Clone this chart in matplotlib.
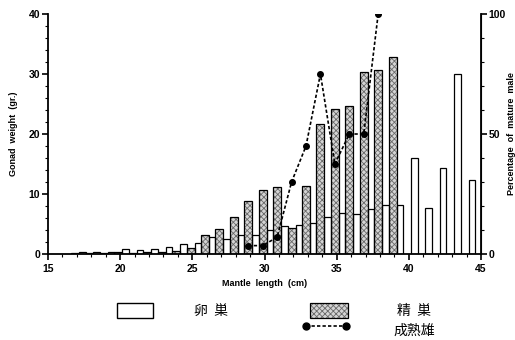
import numpy as np
import matplotlib
matplotlib.use("Agg")
import matplotlib.pyplot as plt
from matplotlib.patches import Rectangle
from matplotlib.lines import Line2D

plt.rcParams['font.family'] = ['Liberation Sans', 'DejaVu Sans']
plt.rcParams['hatch.linewidth'] = 0.6

# gonad weight (g) by mantle length class (cm)
ovary_len = np.arange(17, 45)
ovary_wt = [0.3, 0.3, 0.4, 0.8, 0.65, 0.85, 1.2, 1.7, 1.8, 2.8, 2.5, 3.1,
            3.1, 4.0, 4.6, 4.8, 5.1, 6.1, 6.9, 6.6, 7.5, 8.2, 8.2, 16.0,
            7.6, 14.4, 30.0, 12.4]

testis_len = np.arange(17, 40)
testis_wt = [0.15, 0.2, 0.2, 0.3, 0.2, 0.3, 0.3, 0.45, 1.0, 3.1, 4.1, 6.1,
             8.9, 10.6, 11.2, 4.3, 11.3, 21.6, 24.2, 24.7, 30.4, 30.6, 32.9]

# percentage of mature males
mature_len = np.arange(29, 39)
mature_pct = [3.5, 3.5, 7, 30, 45, 75, 37.5, 50, 50, 100]

STIPPLE_FACE = '#d4d4d4'
STIPPLE_EDGE = '#6a6a6a'

fig = plt.figure(figsize=(5.15, 3.4), dpi=100)
ax = fig.add_axes([0.0932, 0.2529, 0.8408, 0.7059])
ax2 = ax.twinx()

# testis bars sit just left of the class mark, ovary bars just right
ax.bar(testis_len - 0.125, testis_wt, width=0.55, facecolor=STIPPLE_FACE,
       edgecolor=STIPPLE_EDGE, hatch='xxxxxx', linewidth=0, zorder=2)
ax.bar(testis_len - 0.125, testis_wt, width=0.55, fill=False,
       edgecolor='black', linewidth=0.9, zorder=2.1)
ax.bar(ovary_len + 0.375, ovary_wt, width=0.45, facecolor='white',
       edgecolor='black', linewidth=0.9, zorder=2)

ax2.plot(mature_len - 0.125, mature_pct, color='black', linestyle=(0, (2, 1.3)),
         linewidth=1.2, marker='o', markersize=4, zorder=3)

ax.set_xlim(15, 45)
ax.set_ylim(0, 40)
ax2.set_ylim(0, 100)

ax.set_xticks(np.arange(15, 46, 5))
ax.set_xticks(np.arange(15, 46, 1), minor=True)
ax.set_yticks(np.arange(0, 41, 10))
ax.set_yticks(np.arange(0, 41, 2), minor=True)
ax2.set_yticks([0, 50, 100])
ax2.set_yticks(np.arange(0, 101, 10), minor=True)

for a in (ax, ax2):
    a.spines['top'].set_visible(False)
    a.tick_params(which='major', length=4, width=1.2, labelsize=7.5, pad=1.5)
    a.tick_params(which='minor', length=2, width=0.8)
    for lbl in a.get_xticklabels() + a.get_yticklabels():
        lbl.set_fontweight('bold')
ax.tick_params(axis='x', pad=3)
ax.spines['left'].set_linewidth(1.3)
ax.spines['bottom'].set_linewidth(1.3)
ax2.spines['right'].set_linewidth(1.3)
ax2.spines['left'].set_visible(False)
ax2.spines['bottom'].set_visible(False)

ax.set_ylabel('Gonad  weight  (gr.)', fontsize=6.5, fontweight='bold', labelpad=8)
ax2.set_ylabel('Percentage  of  mature  male', fontsize=6.5, fontweight='bold',
               labelpad=1)
ax.set_xlabel('Mantle  length  (cm)', fontsize=6.5, fontweight='bold', labelpad=4)

# legend drawn in pixel space under the plot
leg = fig.add_axes([0, 0, 1, 1], zorder=-1)
leg.set_xlim(0, 515)
leg.set_ylim(340, 0)
leg.axis('off')
cjk = ['Noto Sans CJK JP', 'DejaVu Sans']
leg.add_patch(Rectangle((117, 303), 36, 15, facecolor='white',
                        edgecolor='black', linewidth=1))
leg.text(211, 311, '卵  巣', family=cjk, fontsize=10, ha='center', va='center')
leg.add_patch(Rectangle((310, 303), 38, 15, facecolor=STIPPLE_FACE, hatch='xxxxxx',
                        edgecolor=STIPPLE_EDGE, linewidth=0))
leg.add_patch(Rectangle((310, 303), 38, 15, fill=False,
                        edgecolor='black', linewidth=0.9))
leg.text(414, 311, '精  巣', family=cjk, fontsize=10, ha='center', va='center')
leg.add_line(Line2D([306, 346], [326, 326], color='black', linestyle=(0, (2, 1.3)),
                    linewidth=1.2, marker='o', markersize=5))
leg.text(414, 331, '成熟雄', family=cjk, fontsize=10, ha='center', va='center')

fig.savefig('out.png', dpi=100)
